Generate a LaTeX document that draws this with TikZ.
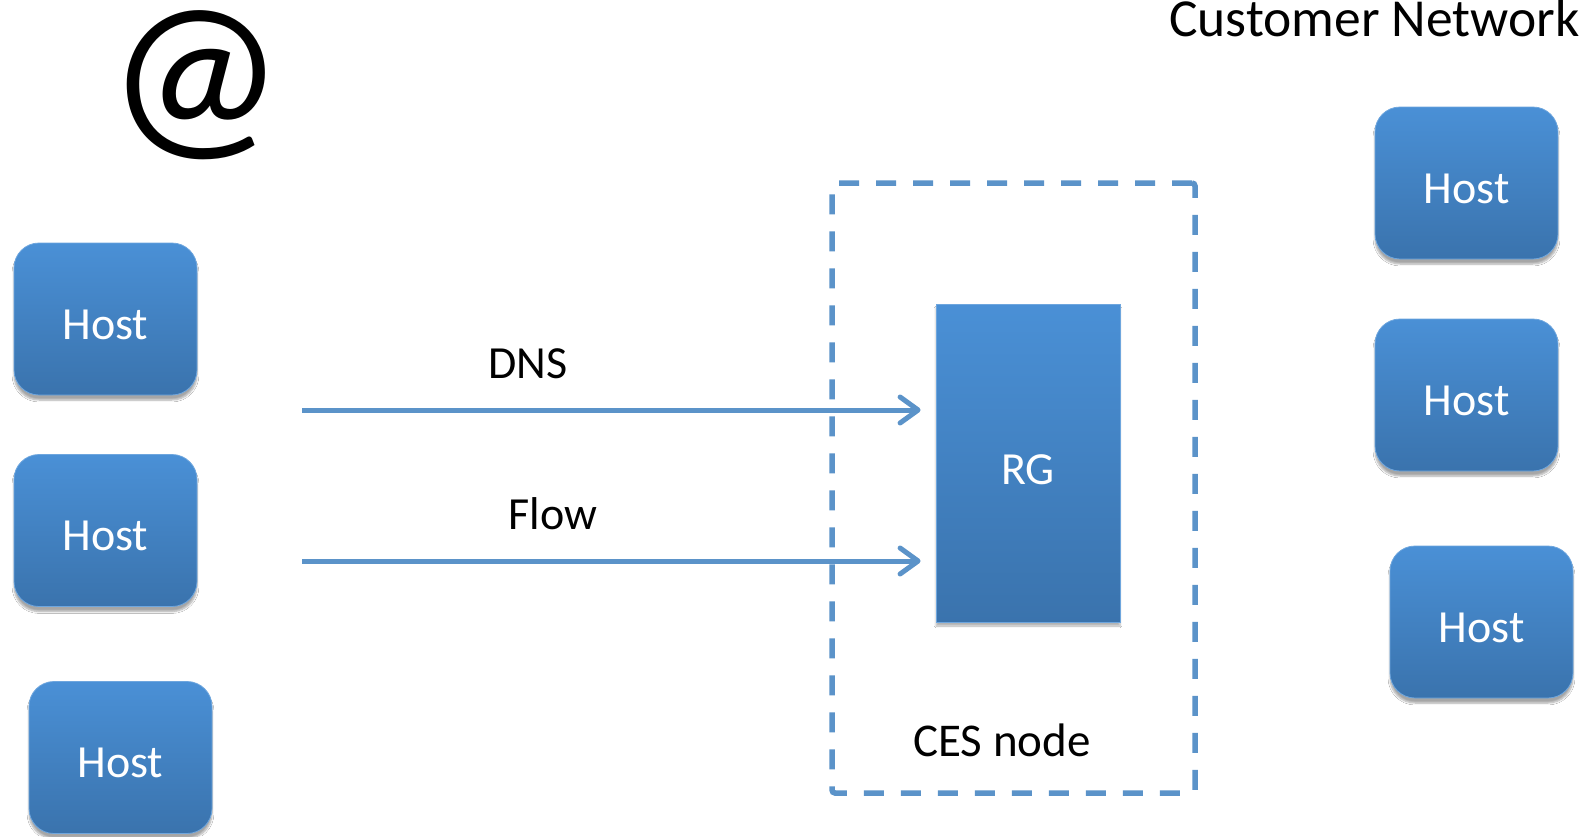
\documentclass[tikz,border=0pt]{standalone}
\usepackage{fontspec}
\setmainfont{Carlito}
\usetikzlibrary{arrows.meta,shadows.blur}
\definecolor{boxtop}{HTML}{4A90D6}
\definecolor{boxbot}{HTML}{3A73AD}
\definecolor{lineblue}{HTML}{5B93C9}
\tikzset{
  hostbox/.style={rectangle, rounded corners=25pt, minimum width=183pt, minimum height=152pt,
    top color=boxtop, bottom color=boxbot, draw=boxtop!80!white, line width=0.8pt,
    text=white, font=\fontsize{46}{50}\selectfont, text height=40pt, text depth=0pt,
    blur shadow={shadow xshift=0pt, shadow yshift=-5pt, shadow blur steps=6, shadow opacity=35}},
  rgbox/.style={rectangle, minimum width=184pt, minimum height=318pt,
    top color=boxtop, bottom color=boxbot, draw=boxtop!80!white, line width=0.8pt,
    text=white, font=\fontsize{46}{50}\selectfont, text height=42pt, text depth=0pt,
    blur shadow={shadow xshift=0pt, shadow yshift=-4pt, shadow blur steps=6, shadow opacity=30}},
  cesbox/.style={rectangle, rounded corners=3pt, minimum width=363pt, minimum height=610pt,
    draw=lineblue, line width=5.5pt, dash pattern=on 20pt off 17pt},
  flowarrow/.style={draw=lineblue, line width=5pt,
    -{Straight Barb[length=18pt, width=26pt, line cap=round, line join=round]}, shorten >=15pt},
  lbl/.style={text=black, font=\fontsize{46}{50}\selectfont},
}
\begin{document}
\begin{tikzpicture}[x=1pt,y=-1pt]
\useasboundingbox[fill=white] (0,0) rectangle (1589,836);
% hosts
\node[hostbox] (h1) at (105.5,319) {Host};
\node[hostbox] (h2) at (105.5,530.5) {Host};
\node[hostbox] (h3) at (120.5,757.5) {Host};
\node[hostbox] (h4) at (1466.5,183) {Host};
\node[hostbox] (h5) at (1466.5,395) {Host};
\node[hostbox] (h6) at (1481.5,622) {Host};
% CES node
\node[cesbox] (ces) at (1013.5,488) {};
\node[rgbox] (rg) at (1028,463) {RG};
\node[lbl, font=\fontsize{47}{50}\selectfont] (ceslbl) at (1002,740) {CES node};
% arrows
\coordinate (d1) at (302,410);
\coordinate (f1) at (302,561);
\draw[flowarrow] (d1) -- (rg.west |- d1);
\draw[flowarrow] (f1) -- (rg.west |- f1);
\node[lbl] (dns) at (528,364) {DNS};
\node[lbl] (flow) at (553,514) {Flow};
% title and @
\node[lbl, font=\fontsize{53.5}{56}\selectfont, anchor=base east] (title) at (1583,36) {Customer Network};
\node[lbl, font=\fontsize{198}{200}\selectfont] (at) at (196,85) {@};
\end{tikzpicture}
\end{document}
